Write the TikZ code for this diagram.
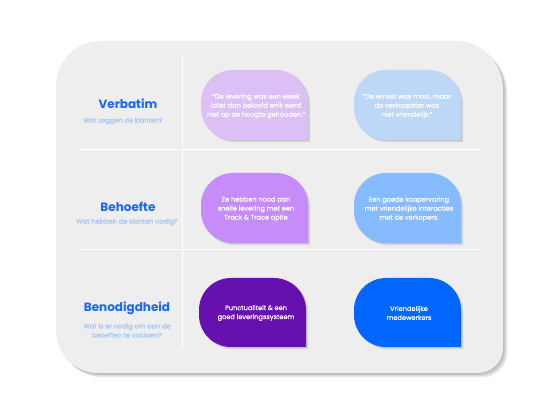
\documentclass[tikz,border=0pt]{standalone}
\usepackage{fontspec}
\setmainfont{Poppins}
\newfontfamily\medfont[FakeBold=0.6]{Poppins}
\definecolor{cardbg}{HTML}{EEEEEE}
\definecolor{titleblue}{HTML}{1A66F5}
\definecolor{subblue}{HTML}{A3C6F7}
\definecolor{cA}{HTML}{DCC0F5}
\definecolor{cB}{HTML}{BDD7F7}
\definecolor{cC}{HTML}{C68CFA}
\definecolor{cD}{HTML}{86BBFF}
\definecolor{cE}{HTML}{6610B0}
\definecolor{cF}{HTML}{0066FF}
\newcommand\bubpath[5]{(#3,#2) -- ({#1+#5},#2) arc[start angle=270,end angle=180,radius=#5pt] -- (#1,{#4-#5}) arc[start angle=180,end angle=90,radius=#5pt] -- ({#3-#5},#4) arc[start angle=90,end angle=0,radius=#5pt] -- cycle}
\newcommand\mybubble[5]{%
  \foreach \s in {1,2,3}{\fill[black,opacity=0.06,xshift=\s*0.8pt,yshift=-\s*0.8pt] \bubpath{#1}{#2}{#3}{#4}{32};}
  \fill[#5] \bubpath{#1}{#2}{#3}{#4}{32};}
\newcommand\cardpath{(98,44) -- (478,44) arc[start angle=-90,end angle=0,radius=25pt] -- (503,328) arc[start angle=0,end angle=90,radius=48pt] -- (101,376) arc[start angle=90,end angle=180,radius=45pt] -- (56,86) arc[start angle=180,end angle=270,radius=42pt] -- cycle}
\tikzset{
  title/.style={text=titleblue,font=\fontsize{12}{14}\selectfont\bfseries},
  sub/.style={text=subblue,font=\fontsize{6.6}{9}\selectfont\medfont,align=center},
  btext/.style={text=white,font=\fontsize{6.6}{9}\selectfont\medfont,align=center},
  divider/.style={draw=white,line width=1pt}
}
\begin{document}
\begin{tikzpicture}[x=1pt,y=1pt]
\useasboundingbox (0,0) rectangle (556,417);
\fill[white] (0,0) rectangle (556,417);
% card with shadow
\foreach \s in {1,2,3,4,5}{\fill[black,opacity=0.06,xshift=\s*0.9pt,yshift=-\s*0.9pt] \cardpath;}
\fill[cardbg] \cardpath;
% dividers
\coordinate (v1) at (182,361); \coordinate (v2) at (182,67);
\coordinate (h1a) at (77,267); \coordinate (h1b) at (482,267);
\coordinate (h2a) at (77,167); \coordinate (h2b) at (482,167);
\draw[divider] (v1) -- (v2);
\draw[divider] (h1a) -- (h1b);
\draw[divider] (h2a) -- (h2b);
% bubbles
\mybubble{201}{277}{308}{347}{cA}
\mybubble{354}{277}{461}{347}{cB}
\mybubble{201}{174}{308}{244}{cC}
\mybubble{354}{174}{461}{244}{cD}
\mybubble{199}{70}{306}{139}{cE}
\mybubble{354}{70}{461}{139}{cF}
\node[btext] (t1) at (256,311) {“De levering was een week\\later dan beloofd enik werd\\niet op de hoogte gehouden.”};
\node[btext] (t2) at (407,311) {“De winkel was mooi, maar\\de verkoopster was\\niet vriendelijk.”};
\node[btext] (t3) at (256,208) {Ze hebben nood aan\\snelle levering met een\\Track \& Trace optie};
\node[btext] (t4) at (409,208) {Een goede koopervaring\\met vriendelijke interacties\\met de verkopers.};
\node[btext] (t5) at (256,104) {Punctualiteit \& een\\goed leveringssysteem};
\node[btext] (t6) at (409,104) {Vriendelijke\\medewerkers};
% titles
\node[title] (n1) at (128,313) {Verbatim};
\node[sub] (s1) at (123,296) {Wat zeggen de klanten?};
\node[title] (n2) at (128,210) {Behoefte};
\node[sub] (s2) at (127,195) {Wat hebben de klanten nodig?};
\node[title] (n3) at (127,109) {Benodigdheid};
\node[sub] (s3) at (127,86.5) {Wat is er nodig om aan de\\beoeften te voldoen?};
\end{tikzpicture}
\end{document}
